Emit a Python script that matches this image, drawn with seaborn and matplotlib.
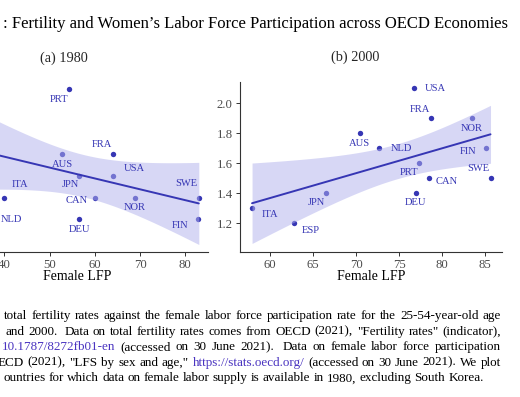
import numpy as np
import pandas as pd
import matplotlib
matplotlib.use("Agg")
import matplotlib.pyplot as plt
import seaborn as sns

# ---------------- data ----------------
countries_1980 = ["ESP", "ITA", "NLD", "AUS", "PRT", "DEU", "JPN", "CAN", "FRA", "USA", "NOR", "FIN", "SWE"]
lfp_1980 = [30.0, 37.5, 39.8, 52.8, 54.3, 56.5, 56.5, 60.0, 64.0, 64.0, 68.9, 82.8, 83.0]
tfr_1980 = [2.2, 1.6, 1.7, 1.9, 2.2, 1.6, 1.8, 1.7, 1.9, 1.8, 1.7, 1.6, 1.7]

countries_2000 = ["ITA", "ESP", "JPN", "AUS", "NLD", "USA", "FRA", "NOR", "FIN", "SWE", "PRT", "CAN", "DEU"]
lfp_2000 = [57.9, 62.8, 66.5, 70.4, 72.7, 76.7, 78.7, 83.4, 85.1, 85.6, 77.3, 78.5, 76.9]
tfr_2000 = [1.3, 1.2, 1.4, 1.8, 1.7, 2.1, 1.9, 1.9, 1.7, 1.5, 1.6, 1.5, 1.4]

xticks_1980 = [30, 40, 50, 60, 70, 80]
yticks_1980 = [1.6, 1.8, 2.0, 2.2]
xticks_2000 = [60, 65, 70, 75, 80, 85]
yticks_2000 = [1.2, 1.4, 1.6, 1.8, 2.0]

title_text = ": Fertility and Women\u2019s Labor Force Participation across OECD Economies"
panel_titles = ["(a) 1980", "(b) 2000"]
xlabel_text = "Female LFP"

# label offsets in pixels (style, not data)
off_1980 = {"ESP": (17, -7), "ITA": (27, 35), "NLD": (8, -22), "AUS": (0, -10), "PRT": (-10, -10),
            "DEU": (0, -10), "JPN": (-9, -9), "CAN": (-18, -3), "FRA": (-11, 10), "USA": (21, 7),
            "NOR": (0, -10), "FIN": (-18, -6), "SWE": (-12, 14)}
off_2000 = {"ITA": (18, -6), "ESP": (17, -7), "JPN": (-10, -9), "AUS": (0, -10), "NLD": (22, 0),
            "USA": (21, 0), "FRA": (-11, 9), "NOR": (0, -10), "FIN": (-18, -3), "SWE": (-12, 10),
            "PRT": (-10, -9), "CAN": (17, -3), "DEU": (0, -9)}

caption_lines = [
    ([("total fertility rates against the female labor force participation rate for the 25-54-year-old age", None)], 4, 501, 319.0, True),
    ([("and 2000.  Data on total fertility rates comes from OECD (2021), \"Fertility rates\" (indicator),", None)], 6, 501, 334.7, True),
    ([("10.1787/8272fb01-en", "link"), ("(accessed on 30 June 2021).  Data on female labor force participation", None)], 2, 501, 350.3, True),
    ([("ECD (2021), \"LFS by sex and age,\"", None), ("https://stats.oecd.org/", "link"), ("(accessed on 30 June 2021). We plot", None)], -2, 501, 365.7, True),
    ([("ountries for which data on female labor supply is available in 1980, excluding South Korea.", None)], 3, 501, 381.3, False),
]

# ---------------- style ----------------
sns.set_theme(style="ticks")
plt.rcParams["font.family"] = ["Liberation Serif", "DejaVu Serif"]
plt.rcParams["mathtext.fontset"] = "stix"

BLUE = "#3636b4"
BAND = "#b0b0ec"
LINK = "#4a34c0"
TICKC = "#4d4d4d"
SPINE = "#333333"

W, H = 520, 397
fig = plt.figure(figsize=(W / 100, H / 100), dpi=100)


def px_axes(left, top, right, bottom):
    return fig.add_axes([left / W, 1 - bottom / H, (right - left) / W, (bottom - top) / H])


ax1 = px_axes(-53.4, 82, 208.3, 251.7)
ax2 = px_axes(240, 82, 501.7, 251.7)

T90 = 1.796  # t quantile (0.95, df=11)


def panel(ax, countries, lfp, tfr, offs, xlim, ylim, xt, yt):
    df = pd.DataFrame({"lfp": lfp, "tfr": tfr, "country": countries})
    sns.regplot(data=df, x="lfp", y="tfr", ax=ax, ci=None, truncate=True, color=BLUE,
                scatter_kws=dict(s=15, linewidths=0, zorder=2, alpha=1),
                line_kws=dict(color=BLUE, lw=1.4, zorder=4))
    # analytic confidence band
    x = df["lfp"].to_numpy(float)
    y = df["tfr"].to_numpy(float)
    n = len(x)
    b1, b0 = np.polyfit(x, y, 1)
    res = y - (b0 + b1 * x)
    s = np.sqrt((res ** 2).sum() / (n - 2))
    mx = x.mean()
    sxx = ((x - mx) ** 2).sum()
    g = np.linspace(x.min(), x.max(), 200)
    fit = b0 + b1 * g
    se = s * np.sqrt(1 / n + (g - mx) ** 2 / sxx)
    ax.fill_between(g, fit - T90 * se, fit + T90 * se, color=BAND, alpha=0.5, lw=0, zorder=3)
    for c, xx, yy in zip(countries, lfp, tfr):
        ax.annotate(c, xy=(xx, yy), xytext=offs[c], textcoords="offset pixels",
                    ha="center", va="center", fontsize=7.6, color=BLUE, zorder=6)
    ax.set_xlim(*xlim)
    ax.set_ylim(*ylim)
    ax.set_xticks(xt)
    ax.set_yticks(yt)
    ax.set_yticklabels([f"{v:.1f}" for v in yt])
    ax.set_ylabel("")
    ax.set_xlabel(xlabel_text, fontsize=10, color="black")
    ax.xaxis.set_label_coords(0.5, -0.108)
    sns.despine(ax=ax)
    for sp in ["left", "bottom"]:
        ax.spines[sp].set_linewidth(0.8)
        ax.spines[sp].set_color(SPINE)
    ax.tick_params(axis="both", length=3.0, width=0.7, color=SPINE, labelsize=9.2,
                   labelcolor=TICKC, pad=2.2, direction="out")
    ax.set_facecolor("none")


panel(ax1, countries_1980, lfp_1980, tfr_1980, off_1980, (27.2, 85.1), (1.45, 2.234),
      xticks_1980, yticks_1980)
panel(ax2, countries_2000, lfp_2000, tfr_2000, off_2000, (56.5, 86.9), (1.012, 2.143),
      xticks_2000, yticks_2000)

# titles
fig.text(3 / W, 1 - 28.5 / H, title_text, fontsize=12, ha="left", va="baseline", color="black")
fig.text(64 / W, 1 - 61.7 / H, panel_titles[0], fontsize=10.3, ha="center", va="baseline")
fig.text(355 / W, 1 - 60.7 / H, panel_titles[1], fontsize=10.3, ha="center", va="baseline")

# justified caption
renderer = fig.canvas.get_renderer()
for segments, x0, x1, base, justify in caption_lines:
    words = []
    for seg, kind in segments:
        parts = seg.split(" ")
        i = 0
        while i < len(parts):
            w = parts[i]
            extra = 1.0
            if w == "":
                i += 1
                continue
            if i + 2 < len(parts) and parts[i + 1] == "":
                extra = 1.6
            words.append([w, LINK if kind == "link" else "black", extra])
            i += 1
    texts = []
    widths = []
    for w, col, _ in words:
        t = fig.text(0, 1 - base / H, w, fontsize=9.45, ha="left", va="baseline", color=col)
        bb = t.get_window_extent(renderer)
        texts.append(t)
        widths.append(bb.width)
    weights = [wd[2] for wd in words[:-1]]
    if justify:
        total_gap = (x1 - x0) - sum(widths)
        unit = total_gap / sum(weights)
    else:
        unit = 3.2
    xpos = x0
    for k, t in enumerate(texts):
        t.set_x(xpos / W)
        if k < len(weights):
            xpos += widths[k] + unit * weights[k]

fig.savefig("out.png", dpi=100)
